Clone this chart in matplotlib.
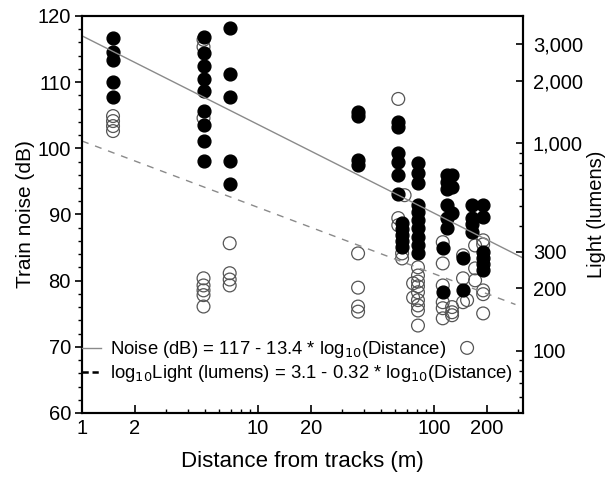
import numpy as np
import matplotlib
matplotlib.use('Agg')
import matplotlib.pyplot as plt
from matplotlib.lines import Line2D
from matplotlib.ticker import FixedLocator, FixedFormatter, NullFormatter

plt.rcParams['font.family'] = ['Liberation Sans', 'DejaVu Sans']

# noise measurements (filled circles, left axis)
noise_dist = [1.5] * 5 + [4.9] * 9 + [6.9] * 5 + [37] * 4 \
    + [62.6] * 6 + [65.8] * 5 + [81] * 10 \
    + [118.6] * 6 + [112] * 2 + [126.5] * 3 + [146] * 2 + [164] * 4 + [190] * 6
noise_db = [116.7, 114.6, 113.4, 110.0, 107.8,
            116.8, 114.4, 112.4, 110.5, 108.7, 105.6, 103.5, 101.1, 98.1,
            118.2, 111.2, 107.8, 98.1, 94.6,
            105.5, 104.9, 98.2, 97.5,
            104.0, 103.2, 99.3, 97.9, 96.0, 93.1,
            88.7, 87.8, 86.9, 86.0, 85.1,
            97.8, 96.3, 94.8, 91.4, 90.4, 89.2, 88.0, 86.6, 85.4, 84.2,
            96.0, 94.9, 93.9, 91.4, 89.5, 88.0,
            84.9, 78.3,
            96.0, 94.2, 90.2,
            83.4, 78.6,
            91.4, 89.5, 88.6, 87.4,
            91.4, 89.6, 84.3, 83.4, 82.5, 81.6]

# light measurements (open circles, right axis)
light_dist = [1.5] * 4 + [4.9] * 3 + [4.9] * 5 + [6.9] * 4 + [37] * 4 \
    + [62.6] * 3 + [68] + [65.8] * 2 + [76] * 2 + [81] * 9 \
    + [112] * 6 + [126.5] * 3 + [146] * 3 + [154] * 2 + [171] * 3 + [190] * 5
light_lm = [1350, 1277, 1208, 1143,
            3147, 2911, 1321,
            223, 206, 195, 185, 163,
            329, 236, 220, 206,
            294, 201, 163, 154,
            1633, 435, 402, 561,
            294, 278,
            211, 180,
            252, 230, 215, 204, 191, 175, 165, 156, 132,
            333, 263, 206, 171, 160, 143,
            162, 153, 148,
            288, 223, 171,
            175, 103,
            321, 249, 218,
            340, 325, 195, 187, 151]

noise_a, noise_b = 117, 13.4
light_a, light_b = 3.01, 0.32  # as drawn in the figure

fig = plt.figure(figsize=(6.14, 4.79), dpi=100)
ax = fig.add_axes([0.1336, 0.1378, 0.7182, 0.8288])
ax2 = ax.twinx()
ax.set_zorder(ax2.get_zorder() + 1)
ax.patch.set_visible(False)

d_line = np.logspace(0, np.log10(320), 50)
ax.plot(d_line, noise_a - noise_b * np.log10(d_line), color='#8a8a8a', lw=1.0)
d_line2 = np.logspace(0, np.log10(290), 50)
ax2.plot(d_line2, 10 ** (light_a - light_b * np.log10(d_line2)),
         color='#8a8a8a', lw=1.0, ls=(0, (5, 5)))

ax2.scatter(light_dist, light_lm, s=85, facecolors='none',
            edgecolors='#555555', linewidths=0.9)
ax.scatter(noise_dist, noise_db, s=85, color='black', edgecolors='black')

ax.set_xscale('log')
ax.set_xlim(1, 320)
ax.set_ylim(60, 120)
ax2.set_yscale('log')
ax2.set_ylim(50, 4100)

ax.xaxis.set_major_locator(FixedLocator([1, 2, 10, 20, 100, 200]))
ax.xaxis.set_major_formatter(FixedFormatter(['1', '2', '10', '20', '100', '200']))
ax.xaxis.set_minor_locator(FixedLocator([3, 4, 5, 6, 7, 8, 9, 30, 40, 50, 60, 70, 80, 90, 300]))
ax.xaxis.set_minor_formatter(NullFormatter())
ax.set_yticks(range(60, 121, 10))
ax.set_yticks(range(60, 121, 2), minor=True)

ax2.yaxis.set_major_locator(FixedLocator([100, 200, 300, 1000, 2000, 3000]))
ax2.yaxis.set_major_formatter(FixedFormatter(['100', '200', '300', '1,000', '2,000', '3,000']))
ax2.yaxis.set_minor_locator(FixedLocator([60, 70, 80, 90, 400, 500, 600, 700, 800, 900]))
ax2.yaxis.set_minor_formatter(NullFormatter())

ax.tick_params(axis='x', which='major', direction='in', length=6, width=1.2,
               labelsize=14.5, pad=4, top=False)
ax.tick_params(axis='x', which='minor', direction='in', length=3, width=1.0, top=False)
ax.tick_params(axis='y', which='major', direction='out', length=5, width=1.2,
               labelsize=14.5, pad=3)
ax.tick_params(axis='y', which='minor', direction='out', length=3, width=1.0)
ax2.tick_params(axis='y', which='major', direction='in', length=5, width=1.2,
                labelsize=14.5, pad=7)
ax2.tick_params(axis='y', which='minor', direction='in', length=3, width=1.0)

for a in (ax, ax2):
    for s in a.spines.values():
        s.set_linewidth(1.5)

ax.set_xlabel('Distance from tracks (m)', fontsize=16, labelpad=10)
ax.set_ylabel('Train noise (dB)', fontsize=15, labelpad=2)
ax2.set_ylabel('Light (lumens)', fontsize=14.5, labelpad=3)

handles = [Line2D([], [], color='#8a8a8a', lw=1.0),
           Line2D([], [], color='black', lw=1.8, ls=(0, (2.5, 1.5)))]
labels = ['Noise (dB) = 117 - 13.4 * log$_{10}$(Distance)',
          'log$_{10}$Light (lumens) = 3.1 - 0.32 * log$_{10}$(Distance)']
ax.legend(handles, labels, loc='lower left', bbox_to_anchor=(-0.025, 0.045),
          frameon=False, fontsize=13.3, handlelength=1.0, handletextpad=0.5,
          labelspacing=0.15, borderaxespad=0.2)

fig.savefig('out.png', dpi=100)
